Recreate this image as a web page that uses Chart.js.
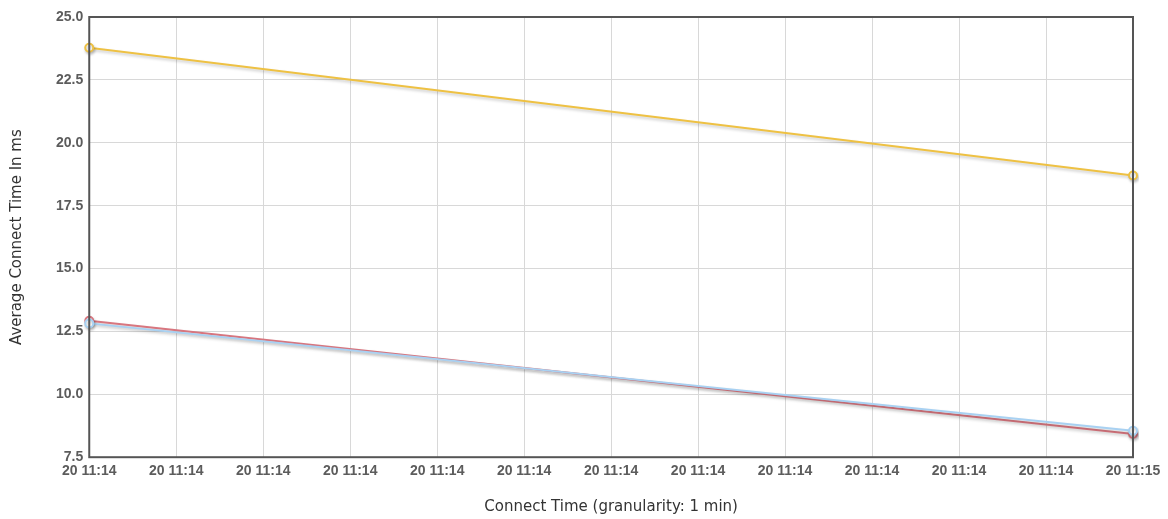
<!DOCTYPE html>
<html>
<head>
<meta charset="utf-8">
<script src="https://cdn.jsdelivr.net/npm/chart.js@4/dist/chart.umd.min.js"></script>
<style>
  html, body { margin: 0; padding: 0; background: #fff; }
  #wrap { width: 1168px; height: 519px; }
</style>
</head>
<body>
<div id="wrap"><canvas id="connectChart"></canvas></div>
<script>
const labels = [
  '20 11:14', '20 11:14', '20 11:14', '20 11:14', '20 11:14', '20 11:14', '20 11:14',
  '20 11:14', '20 11:14', '20 11:14', '20 11:14', '20 11:14', '20 11:15'
];
const yellowSeries = [23.78, null, null, null, null, null, null, null, null, null, null, null, 18.70];
const redSeries = [12.92, null, null, null, null, null, null, null, null, null, null, null, 8.42];
const blueSeries = [12.82, null, null, null, null, null, null, null, null, null, null, null, 8.55];

// soft grey shadow under the lines
const lineShadow = {
  id: 'lineShadow',
  beforeDatasetsDraw(chart) {
    const ctx = chart.ctx;
    ctx.save();
    ctx.shadowColor = 'rgba(0,0,0,0.22)';
    ctx.shadowBlur = 3;
    ctx.shadowOffsetX = 1;
    ctx.shadowOffsetY = 2;
  },
  afterDatasetsDraw(chart) {
    chart.ctx.restore();
  }
};

// dark frame round the plot area
const plotFrame = {
  id: 'plotFrame',
  afterDraw(chart) {
    const { ctx, chartArea } = chart;
    ctx.save();
    ctx.strokeStyle = '#555';
    ctx.lineWidth = 2;
    ctx.strokeRect(chartArea.left, chartArea.top, chartArea.right - chartArea.left, chartArea.bottom - chartArea.top);
    ctx.restore();
  }
};

const dataset = (data, color, order) => ({
  data: data,
  order: order,
  borderColor: color,
  backgroundColor: '#fff',
  borderWidth: 2,
  pointRadius: 4,
  pointBorderWidth: 2,
  pointBackgroundColor: '#fff',
  pointBorderColor: color,
  spanGaps: true,
  fill: false,
  tension: 0
});

const tickFont = { family: 'Liberation Sans', size: 14, weight: 'bold' };
const titleFont = { family: 'DejaVu Sans', size: 15 };

const ctx = document.getElementById('connectChart').getContext('2d');
new Chart(ctx, {
  type: 'line',
  data: {
    labels: labels,
    datasets: [
      dataset(yellowSeries, '#eec143', 2),
      dataset(redSeries, '#d8767f', 1),
      dataset(blueSeries, '#a8d1f2', 0)
    ]
  },
  options: {
    responsive: true,
    maintainAspectRatio: false,
    animation: false,
    layout: { padding: { top: 17, right: 35, bottom: 3, left: 8 } },
    plugins: {
      legend: { display: false },
      tooltip: { enabled: false }
    },
    scales: {
      x: {
        offset: false,
        grid: { color: '#d8d8d8', drawTicks: false },
        border: { display: false },
        ticks: {
          autoSkip: false,
          maxRotation: 0,
          padding: 6,
          color: '#5c5c5c',
          font: tickFont
        },
        title: {
          display: true,
          text: 'Connect Time (granularity: 1 min)',
          color: '#333',
          padding: { top: 12, bottom: 0 },
          font: titleFont
        }
      },
      y: {
        min: 7.5,
        max: 25,
        grid: { color: '#d8d8d8', drawTicks: false },
        border: { display: false },
        ticks: {
          stepSize: 2.5,
          padding: 6,
          color: '#5c5c5c',
          font: tickFont,
          callback: (v) => v.toFixed(1)
        },
        title: {
          display: true,
          text: 'Average Connect Time In ms',
          color: '#333',
          padding: { top: 0, bottom: 24 },
          font: titleFont
        }
      }
    }
  },
  plugins: [lineShadow, plotFrame]
});
</script>
</body>
</html>
